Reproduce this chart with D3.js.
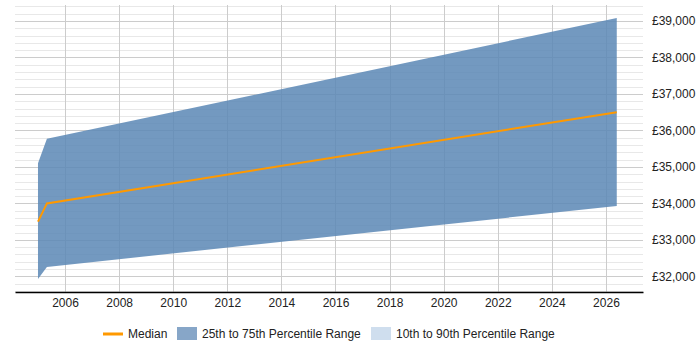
<!DOCTYPE html>
<html>
<head>
<meta charset="utf-8">
<script src="https://cdn.jsdelivr.net/npm/d3@7"></script>
<style>
  body { margin: 0; background: #fff; }
  svg { font-family: "Liberation Sans", Arial, sans-serif; }
</style>
</head>
<body>
<div id="chart"></div>
<script>
// time points (decimal years) and salary percentiles
const years = [2005.0, 2005.33, 2026.4];
const median = [33500, 34000, 36500];
const p25 = [31930, 32260, 33930];
const p75 = [35100, 35770, 39080];
const yTicks = [32000, 33000, 34000, 35000, 36000, 37000, 38000, 39000];
const xTicks = [2006, 2008, 2010, 2012, 2014, 2016, 2018, 2020, 2022, 2024, 2026];
const legendItems = ["Median", "25th to 75th Percentile Range", "10th to 90th Percentile Range"];

const W = 700, H = 350;
const plot = { left: 15, right: 643, top: 5, bottom: 292 };

const svg = d3.select("#chart").append("svg")
    .attr("width", W)
    .attr("height", H);

const x = d3.scaleLinear()
    .domain([2004.15, 2027.37])
    .range([plot.left, plot.right]);

const y = d3.scaleLinear()
    .domain([31572, 39438])
    .range([plot.bottom, plot.top]);

// minor horizontal grid every 200
const minor = d3.range(31600, 39438, 200).filter(v => v % 1000 !== 0);
svg.append("g").selectAll("line").data(minor).join("line")
    .attr("x1", plot.left).attr("x2", plot.right)
    .attr("y1", d => Math.round(y(d)) + 0.5).attr("y2", d => Math.round(y(d)) + 0.5)
    .attr("stroke", "#e8e8e8");

svg.append("g").selectAll("line").data(yTicks).join("line")
    .attr("x1", plot.left).attr("x2", plot.right)
    .attr("y1", d => Math.round(y(d)) + 0.5).attr("y2", d => Math.round(y(d)) + 0.5)
    .attr("stroke", "#cccccc");

svg.append("g").selectAll("line").data(xTicks).join("line")
    .attr("x1", d => Math.round(x(d)) + 0.5).attr("x2", d => Math.round(x(d)) + 0.5)
    .attr("y1", plot.top).attr("y2", plot.bottom)
    .attr("stroke", "#cccccc");

// 25-75 band
const rows = years.map((yr, i) => ({ yr, lo: p25[i], hi: p75[i], med: median[i] }));

svg.append("path")
    .datum(rows)
    .attr("fill", "#5b87b5")
    .attr("fill-opacity", 0.85)
    .attr("d", d3.area()
        .x(d => x(d.yr))
        .y0(d => y(d.lo))
        .y1(d => y(d.hi)));

svg.append("path")
    .datum(rows)
    .attr("fill", "none")
    .attr("stroke", "#ff9900")
    .attr("stroke-width", 2)
    .attr("d", d3.line()
        .x(d => x(d.yr))
        .y(d => y(d.med)));

// x axis
const xAxis = svg.append("g")
    .attr("transform", `translate(0,${plot.bottom})`)
    .call(d3.axisBottom(x).tickValues(xTicks).tickFormat(d3.format("d")).tickSize(0).tickPadding(6));
xAxis.select(".domain").attr("stroke", "#000").attr("stroke-width", 1.5);
xAxis.selectAll("text").attr("font-size", 12).attr("fill", "#222")
    .attr("font-family", "Liberation Sans, Arial, sans-serif");

// y axis on the right
const yAxis = svg.append("g")
    .attr("transform", `translate(${plot.right},0)`)
    .call(d3.axisRight(y).tickValues(yTicks).tickFormat(d => "£" + d3.format(",")(d)).tickSize(0).tickPadding(9));
yAxis.select(".domain").remove();
yAxis.selectAll("text").attr("font-size", 12).attr("fill", "#222")
    .attr("font-family", "Liberation Sans, Arial, sans-serif");

// legend
const legend = svg.append("g").attr("font-size", 12).attr("fill", "#222");
const lx = [103, 177, 371];
legend.append("line")
    .attr("x1", lx[0]).attr("x2", lx[0] + 20)
    .attr("y1", 334).attr("y2", 334)
    .attr("stroke", "#ff9900").attr("stroke-width", 3);
legend.append("rect").attr("x", lx[1]).attr("y", 327).attr("width", 20).attr("height", 13)
    .attr("fill", "#87a6c8");
legend.append("rect").attr("x", lx[2]).attr("y", 327).attr("width", 20).attr("height", 13)
    .attr("fill", "#cfdeee");
legendItems.forEach((t, i) => {
    legend.append("text")
        .attr("x", lx[i] + 25).attr("y", 338)
        .attr("fill", "#222")
        .text(t);
});
</script>
</body>
</html>
